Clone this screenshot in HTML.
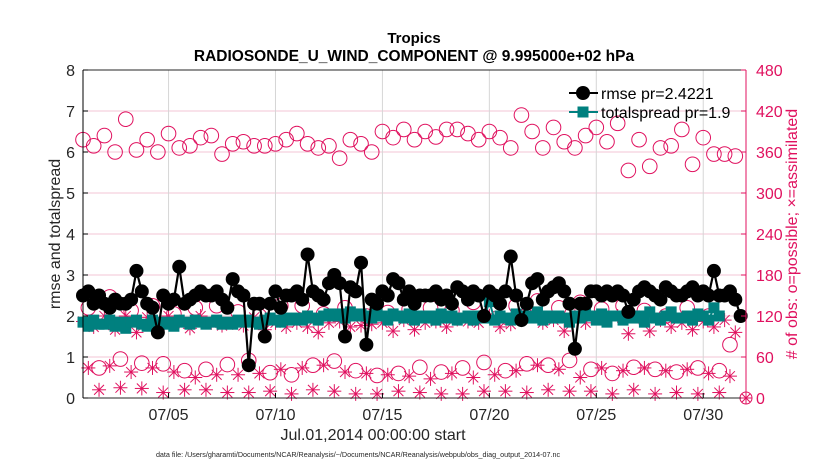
<!DOCTYPE html>
<html><head><meta charset="utf-8"><style>
body{margin:0;background:#fff;}
svg{display:block;font-family:"Liberation Sans",Arial,sans-serif;}
</style></head><body>
<svg id="chart" width="830" height="470" viewBox="0 0 830 470" xmlns="http://www.w3.org/2000/svg">
<rect x="0" y="0" width="830" height="470" fill="#fff"/>
<text x="414" y="43" text-anchor="middle" font-size="15" font-weight="bold">Tropics</text>
<text x="414" y="61" text-anchor="middle" font-size="15.5" font-weight="bold">RADIOSONDE_U_WIND_COMPONENT @ 9.995000e+02 hPa</text>
<g id="plot"></g>
</svg>
<script>
// ---- data ----
const rmse = [2.5,2.6,2.3,2.5, 2.3,2.2,2.4,2.3, 2.3,2.4,3.1,2.6, 2.3,2.2,1.6,2.5, 2.3,2.4,3.2,2.3, 2.4,2.5,2.6,2.5, 2.5,2.6,2.4,2.2, 2.9,2.6,2.5,0.8, 2.3,2.3,1.5,2.3, 2.6,2.2,2.5,2.5, 2.6,2.4,3.5,2.6, 2.5,2.4,2.8,3.0, 2.8,1.5,2.7,2.6, 3.3,1.3,2.4,2.3, 2.6,2.5,2.9,2.8, 2.4,2.6,2.3,2.5, 2.5,2.5,2.6,2.4, 2.5,2.3,2.7,2.6, 2.4,2.6,2.5,2.0, 2.6,2.5,2.3,2.6, 3.45,2.5,1.9,2.3, 2.8,2.9,2.4,2.6, 2.7,2.8,2.6,2.3, 1.2,2.3,2.3,2.6, 2.6,2.5,2.6,2.5, 2.6,2.5,2.1,2.4, 2.6,2.7,2.6,2.5, 2.4,2.7,2.6,2.5, 2.5,2.6,2.7,2.5, 2.6,2.5,3.1,2.5, 2.5,2.6,2.4,2.0];
const spread = [1.85,1.75,1.9,1.8, 1.8,1.9,1.75,1.85, 1.7,1.85,1.9,1.8, 1.75,1.9,1.85,1.8, 1.85,1.75,1.9,1.85, 1.8,1.9,1.85,1.8, 1.85,1.9,1.8,1.85, 1.8,1.9,1.85,1.9, 1.85,1.8,1.9,1.95, 1.9,1.85,1.95,1.9, 1.95,1.9,2.0,1.95, 1.9,2.0,2.05,2.0, 2.05,1.95,2.1,2.0, 2.05,2.0,1.95,2.1, 2.0,1.9,2.05,2.0, 1.95,2.05,1.9,2.0, 1.95,2.0,1.9,2.05, 1.95,2.0,1.9,1.95, 2.0,1.9,2.0,1.95, 2.35,1.9,2.0,1.95, 1.9,2.05,1.95,2.0, 1.95,2.1,1.9,2.0, 1.95,2.0,1.95,1.85, 2.0,1.95,2.05,2.0, 1.9,2.05,1.85,2.0, 2.0,1.9,2.05,1.95, 2.0,1.85,2.1,1.95, 1.9,2.0,2.1,1.95, 1.95,2.0,1.9,2.05, 2.0,1.9,2.2,2.0];
const possSyn = [378,369,384,360,408,363,378,360,387,366,369,381,384,357,372,375,369,369,372,378,387,372,366,369,351,378,372,360,390,381,393,378,390, 382,393,393,387,378,390,381,366,414,390,366,396,375,366,384,396,375,402,333,378,339,366,369,393,342,381,357,357,354];
const poss06 = [132,148,128,135,123,132,135,126,120,135,135,123,132,120,125,130,132,128,140,130,135,142,132,140,130,135,128,120,132,120,78];
const poss18 = [44,57,51,50,40,42,49,55,37,34,48,54,40,33,36,45,38,44,52,40,50,48,55,42,36,45,42,38,44,40,0];
const assimSyn = [112,104,120,100,120,96,118,100,120,112,102,120,110,106,110,106,118,100,110,104,110,104,96,110,112,104,106,108,110,98,114,100,110, 112,104,115,112,110,120,104,108,120,126,110,114,98,120,110,118,114,120,94,118,98,114,104,110,100,112,104,114,96];
const assim06 = [44,47,38,44,38,30,34,34,36,42,44,48,38,36,34,32,28,36,30,34,40,48,42,30,44,40,44,40,42,36,32];
const assim18 = [12,15,14,8,12,12,8,8,10,6,12,10,6,6,10,8,6,6,10,10,8,12,10,10,6,12,6,8,6,8,0];
const xTickLabels = ["07/05","07/10","07/15","07/20","07/25","07/30"];
const xTickDays = [4,9,14,19,24,29];
const yLeftTicks = [0,1,2,3,4,5,6,7,8];
const yRightTicks = [0,60,120,180,240,300,360,420,480];

// ---- axes ----
const L=83,R=746,T=70,B=398;
const PINK="#e0115f", TEAL="#00807f";
const xs = d => L + d*(R-L)/31;
const yl = v => B - v*(B-T)/8;
const yr = n => B - n*(B-T)/480;
const NS="http://www.w3.org/2000/svg";
const svg=document.getElementById('plot');
function mk(tag,attrs,parent){const e=document.createElementNS(NS,tag);for(const k in attrs)e.setAttribute(k,attrs[k]);(parent||svg).appendChild(e);return e;}

// grid
const grid=mk('g',{});


yLeftTicks.forEach(v=>{ if(v>0&&v<8){const g=mk('line',{x1:L,x2:R,y1:yl(v),y2:yl(v),stroke:"#f3c6d6","stroke-width":1},grid);

}});
xTickDays.forEach(d=>{const g=mk('line',{x1:xs(d),x2:xs(d),y1:T,y2:B,stroke:"#d6d6d6","stroke-width":1},grid);

});

// series helpers
function circle(x,y,r,parent){const c=mk('circle',{cx:x,cy:y,r:r,fill:"none",stroke:PINK,"stroke-width":1},parent);

}
function star(x,y,s,parent){const g=mk('g',{stroke:PINK,"stroke-width":1},parent);


for(let k=0;k<4;k++){const a=k*Math.PI/4;mk('line',{x1:x-s*Math.cos(a),y1:y-s*Math.sin(a),x2:x+s*Math.cos(a),y2:y+s*Math.sin(a)},g);}}

const obsG=mk('g',{});


possSyn.forEach((n,i)=>circle(xs(i*0.5),yr(n),7.3,obsG));
poss06.forEach((n,i)=>circle(xs(i+0.25),yr(n),7.3,obsG));
poss18.forEach((n,i)=>{ if(n>0) circle(xs(i+0.75),yr(n),7.3,obsG);});
assimSyn.forEach((n,i)=>star(xs(i*0.5),yr(n),7,obsG));
assim06.forEach((n,i)=>star(xs(i+0.25),yr(n),7,obsG));
assim18.forEach((n,i)=>{ if(n>0) star(xs(i+0.75),yr(n),7,obsG);});

// spread
const spG=mk('g',{});


mk('polyline',{points:spread.map((v,i)=>xs(i*0.25)+","+yl(v)).join(" "),fill:"none",stroke:TEAL,"stroke-width":2},spG);
spread.forEach((v,i)=>{const r=mk('rect',{x:xs(i*0.25)-5.5,y:yl(v)-5.5,width:11,height:11,fill:TEAL},spG);

});

// rmse
const rmG=mk('g',{});


mk('polyline',{points:rmse.map((v,i)=>xs(i*0.25)+","+yl(v)).join(" "),fill:"none",stroke:"#000","stroke-width":2.2},rmG);
rmse.forEach((v,i)=>{const c=mk('circle',{cx:xs(i*0.25),cy:yl(v),r:7,fill:"#000"},rmG);

});

// special end marker
const em=mk('g',{});


circle(R,B,6,em); star(R,B,6,em);

// axes lines
const ax=mk('g',{});


mk('line',{x1:L,x2:L,y1:T,y2:B,stroke:"#000"},ax);
mk('line',{x1:L,x2:R,y1:B,y2:B,stroke:"#262626"},ax);
mk('line',{x1:L,x2:R,y1:T,y2:T,stroke:"#262626"},ax);
mk('line',{x1:R,x2:R,y1:T,y2:B,stroke:PINK},ax);

// ticks and labels
yLeftTicks.forEach(v=>{mk('line',{x1:L,x2:L+5,y1:yl(v),y2:yl(v),stroke:"#000"},ax);
const t=mk('text',{x:L-8,y:yl(v)+6,"text-anchor":"end","font-size":16,fill:"#262626"},ax);t.textContent=v;

});
yRightTicks.forEach(n=>{mk('line',{x1:R-5,x2:R,y1:yr(n),y2:yr(n),stroke:PINK},ax);
const t=mk('text',{x:R+10,y:yr(n)+6,"font-size":16,fill:PINK},ax);t.textContent=n;

});
xTickDays.forEach((d,i)=>{mk('line',{x1:xs(d),x2:xs(d),y1:B,y2:B-5,stroke:"#000"},ax);
const t=mk('text',{x:xs(d),y:B+22,"text-anchor":"middle","font-size":16,fill:"#262626"},ax);t.textContent=xTickLabels[i];

});

// axis titles
const xt=mk('text',{x:373,y:440,"text-anchor":"middle","font-size":16,fill:"#262626"});xt.textContent="Jul.01,2014 00:00:00 start";


const ylt=mk('text',{x:0,y:0,"text-anchor":"middle","font-size":16,fill:"#262626",transform:"translate(60,234) rotate(-90)"});ylt.textContent="rmse and totalspread";


const yrt=mk('text',{x:0,y:0,"text-anchor":"middle","font-size":16,fill:PINK,transform:"translate(797,234) rotate(-90)"});yrt.textContent="# of obs: o=possible; \u00d7=assimilated";


const fn=mk('text',{x:358,y:457,"text-anchor":"middle","font-size":7.2,fill:"#262626"});fn.textContent="data file: /Users/gharamti/Documents/NCAR/Reanalysis/~/Documents/NCAR/Reanalysis/webpub/obs_diag_output_2014-07.nc";



// legend
const lg=mk('g',{});


const le1=mk('g',{},lg);


mk('line',{x1:569,x2:598,y1:93,y2:93,stroke:"#000","stroke-width":2},le1);
mk('circle',{cx:583,cy:93,r:7,fill:"#000"},le1);
const t1=mk('text',{x:601,y:99,"font-size":16,fill:"#000"},le1);t1.textContent="rmse pr=2.4221";
const le2=mk('g',{},lg);


mk('line',{x1:569,x2:598,y1:112,y2:112,stroke:TEAL,"stroke-width":2},le2);
mk('rect',{x:577.5,y:106.5,width:11,height:11,fill:TEAL},le2);
const t2=mk('text',{x:601,y:118,"font-size":16,fill:"#000"},le2);t2.textContent="totalspread pr=1.9";
</script>
</body></html>
